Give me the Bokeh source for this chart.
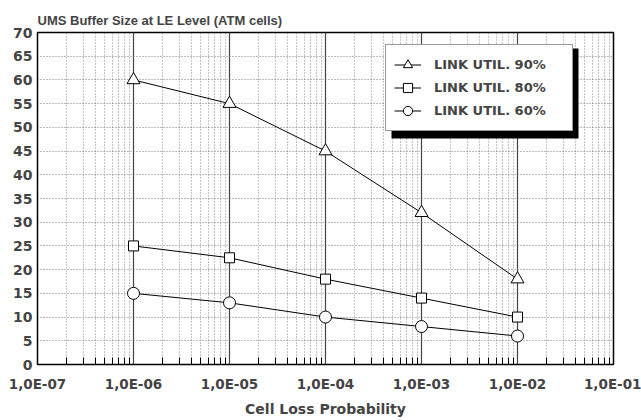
from bokeh.plotting import figure
from bokeh.models import (FixedTicker, CustomJSTickFormatter, Legend, LegendItem,
                          BoxAnnotation, Title)
from bokeh.embed import file_html
from bokeh.resources import INLINE

# ---- data ----
clp = [1e-6, 1e-5, 1e-4, 1e-3, 1e-2]
util_90 = [60, 55, 45, 32, 18]
util_80 = [25, 22.5, 18, 14, 10]
util_60 = [15, 13, 10, 8, 6]
series_labels = ["LINK UTIL. 90%", "LINK UTIL. 80%", "LINK UTIL. 60%"]
x_major = [1e-7, 1e-6, 1e-5, 1e-4, 1e-3, 1e-2, 1e-1]
x_minor = [m * d for d in x_major[:-1] for m in range(2, 10)]
y_ticks = list(range(0, 75, 5))
title_text = "UMS Buffer Size at LE Level (ATM cells)"
x_label = "Cell Loss Probability"

TFONT = "Liberation Sans"
NFONT = "DejaVu Sans"

p = figure(width=641, height=420, x_axis_type="log",
           x_range=(1e-7, 1e-1), y_range=(0, 70),
           output_backend="svg", toolbar_location=None,
           min_border_left=37, min_border_right=28,
           min_border_top=32, min_border_bottom=56,
           background_fill_color="white", border_fill_color="white")

p.title = Title(text=title_text, text_font=TFONT, text_font_size="13px",
                text_font_style="bold", offset=0, standoff=9, align="left")
p.outline_line_color = "black"
p.outline_line_width = 1.5

# axes
xa = p.xaxis[0]
xa.ticker = FixedTicker(ticks=x_major, minor_ticks=x_minor)
xa.formatter = CustomJSTickFormatter(code="""
const e = Math.round(Math.log10(tick));
return "1,0E" + (e < 0 ? "-" : "+") + String(Math.abs(e)).padStart(2, "0");
""")
xa.axis_label = x_label
xa.axis_label_text_font = NFONT
xa.axis_label_text_font_size = "14px"
xa.axis_label_text_font_style = "bold"
xa.axis_label_standoff = 6
xa.major_label_text_font = NFONT
xa.major_label_text_font_size = "13.5px"
xa.major_label_text_font_style = "bold"
xa.major_label_standoff = 11
xa.major_tick_in = 0
xa.major_tick_out = 0
xa.minor_tick_in = 7
xa.minor_tick_out = 0
xa.axis_line_color = "black"

ya = p.yaxis[0]
ya.ticker = FixedTicker(ticks=y_ticks)
ya.major_label_text_font = NFONT
ya.major_label_text_font_size = "14px"
ya.major_label_text_font_style = "bold"
ya.major_label_standoff = 5
ya.major_tick_in = 0
ya.major_tick_out = 0
ya.minor_tick_line_color = None
ya.axis_line_color = "black"

# grids
p.xgrid.grid_line_color = "#444444"
p.xgrid.grid_line_width = 1.2
p.xgrid.minor_grid_line_color = "#888888"
p.xgrid.minor_grid_line_dash = "1 2"
p.ygrid.grid_line_color = "#777777"
p.ygrid.grid_line_dash = "1 2"

# series
r90l = p.line(clp, util_90, line_color="black", line_width=1)
r90m = p.scatter(clp, util_90, marker="triangle", size=13, fill_color="white",
                 line_color="black", line_width=1)
r80l = p.line(clp, util_80, line_color="black", line_width=1)
r80m = p.scatter(clp, util_80, marker="square", size=10, fill_color="white",
                 line_color="black", line_width=1)
r60l = p.line(clp, util_60, line_color="black", line_width=1)
r60m = p.scatter(clp, util_60, marker="circle", size=12, fill_color="white",
                 line_color="black", line_width=1)

# legend shadow
shadow = BoxAnnotation(left=354, right=541, top=316, bottom=226,
                       left_units="screen", right_units="screen",
                       top_units="screen", bottom_units="screen",
                       fill_color="black", fill_alpha=1, line_color=None)
p.add_layout(shadow)

legend = Legend(items=[
    LegendItem(label=series_labels[0], renderers=[r90l, r90m]),
    LegendItem(label=series_labels[1], renderers=[r80l, r80m]),
    LegendItem(label=series_labels[2], renderers=[r60l, r60m]),
], location=(348, 233), padding=8, spacing=0,
    glyph_width=27, glyph_height=23, label_height=23, label_width=130,
    label_standoff=13, label_text_font=NFONT, label_text_font_size="13px",
    label_text_font_style="bold", border_line_color="#333333",
    border_line_width=1.2, background_fill_color="white",
    background_fill_alpha=1, margin=0)
p.add_layout(legend, "center")

open("out.html", "w").write(file_html(p, INLINE))
